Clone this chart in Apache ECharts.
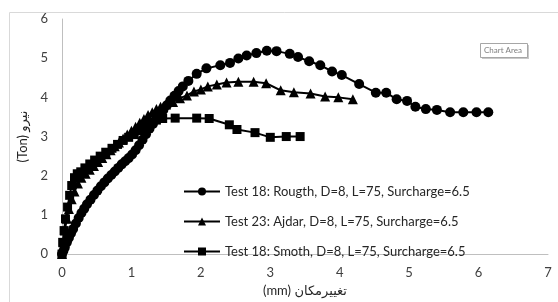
<!DOCTYPE html>
<html>
<head>
<meta charset="utf-8">
<script src="https://cdn.jsdelivr.net/npm/echarts@6/dist/echarts.min.js"></script>
<style>
  html,body{margin:0;padding:0;background:#fff;}
  #main{width:558px;height:302px;}
</style>
</head>
<body>
<div id="main"></div>
<script>
// Test 18: Rougth
var roughX = [0,0.02,0.04,0.07,0.1,0.13,0.16,0.2,0.24,0.28,0.32,0.36,0.41,0.46,0.51,0.56,0.61,0.66,0.71,0.76,0.81,0.86,0.91,0.96,1.01,1.06,1.11,1.16,1.21,1.26,1.31,1.36,1.41,1.46,1.51,1.56,1.62,1.68,1.74,1.82,1.94,2.08,2.28,2.42,2.54,2.66,2.80,2.95,3.09,3.28,3.40,3.56,3.72,3.89,4.03,4.28,4.52,4.67,4.82,4.97,5.09,5.24,5.40,5.59,5.78,5.97,6.14];
var roughY = [0,0.08,0.17,0.3,0.42,0.53,0.64,0.78,0.92,1.05,1.16,1.27,1.39,1.51,1.62,1.73,1.83,1.93,2.02,2.11,2.2,2.29,2.37,2.45,2.54,2.65,2.78,2.92,3.06,3.2,3.32,3.44,3.56,3.68,3.8,3.92,4.04,4.16,4.28,4.42,4.6,4.74,4.82,4.88,4.99,5.07,5.13,5.19,5.18,5.11,5.03,4.92,4.82,4.66,4.57,4.34,4.12,4.12,3.95,3.91,3.76,3.70,3.68,3.62,3.62,3.62,3.62];
// Test 23: Ajdar
var ajdarX = [0,0.02,0.04,0.07,0.1,0.14,0.18,0.23,0.28,0.34,0.4,0.46,0.52,0.58,0.64,0.7,0.76,0.82,0.88,0.94,1.0,1.06,1.12,1.18,1.24,1.3,1.36,1.42,1.5,1.6,1.7,1.8,1.9,2.0,2.1,2.23,2.37,2.54,2.76,2.94,3.15,3.34,3.58,3.79,3.98,4.19];
var ajdarY = [0,0.3,0.6,0.9,1.15,1.4,1.6,1.8,1.95,2.05,2.15,2.25,2.35,2.45,2.55,2.65,2.75,2.85,2.95,3.05,3.15,3.25,3.35,3.45,3.55,3.62,3.7,3.76,3.82,3.88,3.98,4.05,4.15,4.2,4.28,4.33,4.38,4.40,4.40,4.36,4.18,4.13,4.10,4.02,4.0,3.95];
// Test 18: Smoth
var smothX = [0,0.01,0.03,0.05,0.08,0.11,0.14,0.18,0.22,0.27,0.33,0.4,0.47,0.55,0.63,0.72,0.8,0.88,0.96,1.04,1.12,1.2,1.28,1.36,1.45,1.63,1.94,2.12,2.41,2.52,2.78,3.0,3.23,3.43];
var smothY = [0,0.3,0.6,0.9,1.2,1.5,1.75,1.95,2.05,2.1,2.2,2.3,2.4,2.5,2.6,2.7,2.8,2.9,2.98,3.05,3.15,3.25,3.35,3.42,3.46,3.47,3.47,3.46,3.30,3.18,3.10,2.98,3.0,3.0];

var names = [
  'Test 18: Rougth, D=8, L=75, Surcharge=6.5',
  'Test 23: Ajdar, D=8, L=75, Surcharge=6.5',
  'Test 18: Smoth, D=8, L=75, Surcharge=6.5'
];

function pairs(xs, ys){
  var out = [];
  for (var i = 0; i < xs.length; i++) {
    out.push([xs[i], ys[i]]);
  }
  return out;
}

var font = 'Lato, "DejaVu Sans", sans-serif';

var myChart = echarts.init(document.getElementById('main'));
myChart.setOption({
  animation: false,
  textStyle: {fontFamily: font},
  graphic: [
    // chart area border
    {type:'rect', left:7, top:10, shape:{width:600, height:340},
      style:{fill:'none', stroke:'#d9d9d9', lineWidth:1}, silent:true},
    // "Chart Area" tip
    {type:'rect', left:482, top:45, shape:{width:47, height:14},
      style:{fill:'#c8c8c8'}, silent:true},
    {type:'rect', left:480, top:43, shape:{width:47, height:14},
      style:{fill:'#fff', stroke:'#a6a6a6', lineWidth:1}, silent:true},
    {type:'text', left:484, top:46, silent:true,
      style:{text:'Chart Area', fill:'#7f7f7f', font:'8px ' + font}}
  ],
  grid: {left:62, right:10, top:19, bottom:41},
  legend: {
    orient: 'vertical',
    left: 178,
    top: 180,
    itemWidth: 36,
    itemHeight: 10,
    itemGap: 17,
    textStyle: {fontSize: 13, color: '#262626', fontFamily: font},
    data: names
  },
  xAxis: {
    type: 'value',
    min: 0, max: 7, interval: 1,
    name: '(mm) تغییرمکان',
    nameLocation: 'middle',
    nameGap: 25,
    nameTextStyle: {fontSize: 13, color: '#262626', fontFamily: font},
    axisLine: {lineStyle: {color: '#bfbfbf'}},
    axisTick: {show: false},
    splitLine: {show: false},
    axisLabel: {fontSize: 13, color: '#404040', margin: 12}
  },
  yAxis: {
    type: 'value',
    min: 0, max: 6, interval: 1,
    name: '(Ton) نیرو',
    nameLocation: 'middle',
    nameGap: 30,
    nameTextStyle: {fontSize: 13, color: '#262626', fontFamily: font},
    axisLine: {show: true, lineStyle: {color: '#bfbfbf'}},
    axisTick: {show: false},
    splitLine: {show: false},
    axisLabel: {fontSize: 13, color: '#404040', margin: 14}
  },
  series: [
    {
      name: names[0], type: 'line', data: pairs(roughX, roughY),
      symbol: 'circle', symbolSize: 10, showAllSymbol: true,
      itemStyle: {color: '#000'}, lineStyle: {color: '#000', width: 2}
    },
    {
      name: names[1], type: 'line', data: pairs(ajdarX, ajdarY),
      symbol: 'triangle', symbolSize: 10, showAllSymbol: true,
      itemStyle: {color: '#000'}, lineStyle: {color: '#000', width: 2}
    },
    {
      name: names[2], type: 'line', data: pairs(smothX, smothY),
      symbol: 'rect', symbolSize: 9, showAllSymbol: true,
      itemStyle: {color: '#000'}, lineStyle: {color: '#000', width: 2}
    }
  ]
});
</script>
</body>
</html>
